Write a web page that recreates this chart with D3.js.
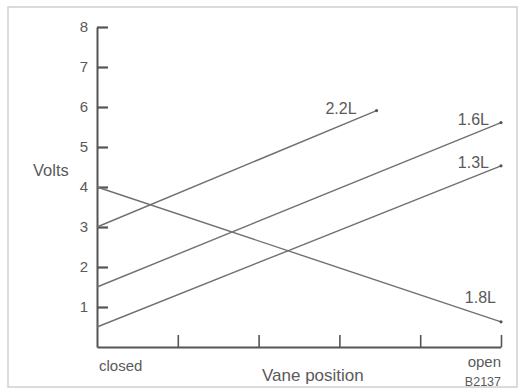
<!DOCTYPE html>
<html>
<head>
<meta charset="utf-8">
<script src="https://cdn.jsdelivr.net/npm/d3@7"></script>
<style>
  html, body { margin: 0; padding: 0; background: #fff; }
  svg { display: block; }
  text { font-family: "Liberation Sans", Arial, Helvetica, sans-serif; fill: #5a5a5a; }
</style>
</head>
<body>
<svg id="chart" width="518" height="390"></svg>
<script>
// Vane position steps (0 = closed, 5 = open) and voltage ticks
const vaneTicks = [1, 2, 3, 4, 5];
const voltTicks = [1, 2, 3, 4, 5, 6, 7, 8];
const endLabels = ["closed", "open"];

// Engine variants: output voltage at the start and end of the vane travel
const engines = ["2.2L", "1.6L", "1.3L", "1.8L"];
const startPos = [0, 0, 0, 0];
const endPos = [3.46, 5, 5, 5];
const startVolts = [3.0, 1.5, 0.5, 4.0];
const endVolts = [5.91, 5.61, 4.53, 0.63];

const svg = d3.select("#chart");
const W = 518;

// light frame around the figure
svg.append("rect")
  .attr("x", 8).attr("y", 7).attr("width", W - 9).attr("height", 380)
  .attr("fill", "none").attr("stroke", "#cfcfcf").attr("stroke-width", 1.5);

const x = d3.scaleLinear().domain([0, 5]).range([97, 501]);
const y = d3.scaleLinear().domain([0, 8]).range([347, 27]);

const axisColor = "#555";

// Volts axis: ticks point into the plot, numbers sit to the left
const yAxis = svg.append("g")
  .attr("transform", `translate(${x(0)},0)`)
  .call(d3.axisLeft(y).tickValues(voltTicks).tickSizeInner(-11).tickSizeOuter(0).tickPadding(9));
yAxis.select(".domain").attr("stroke", axisColor).attr("stroke-width", 2);
yAxis.selectAll(".tick line").attr("stroke", axisColor).attr("stroke-width", 2.2);
yAxis.selectAll(".tick text")
  .style("font-size", "15px").attr("fill", "#5a5a5a")
  .style("font-family", "'Liberation Sans', Arial, sans-serif");

// Vane position axis: ticks point upward, no numbers
const xAxis = svg.append("g")
  .attr("transform", `translate(0,${y(0)})`)
  .call(d3.axisBottom(x).tickValues(vaneTicks).tickSizeInner(-12).tickSizeOuter(0).tickFormat(""));
xAxis.select(".domain").attr("stroke", axisColor).attr("stroke-width", 2);
xAxis.selectAll(".tick line").attr("stroke", axisColor).attr("stroke-width", 1.6);

// Characteristic lines
const lineColor = "#707070";
const rows = engines.map((name, i) => ({
  name, x0: startPos[i], x1: endPos[i], v0: startVolts[i], v1: endVolts[i]
}));

svg.append("g").selectAll("line")
  .data(rows).join("line")
  .attr("x1", d => x(d.x0)).attr("y1", d => y(d.v0))
  .attr("x2", d => x(d.x1)).attr("y2", d => y(d.v1))
  .attr("stroke", lineColor).attr("stroke-width", 1.4);

svg.append("g").selectAll("circle")
  .data(rows).join("circle")
  .attr("cx", d => x(d.x1)).attr("cy", d => y(d.v1))
  .attr("r", 1.6).attr("fill", "#555");

// label offsets from each line's end point
const labelOffset = { "2.2L": [-20, 3], "1.6L": [-12, 2], "1.3L": [-12, 2], "1.8L": [-5, -19] };
svg.append("g").selectAll("text")
  .data(rows).join("text")
  .attr("x", d => x(d.x1) + labelOffset[d.name][0])
  .attr("y", d => y(d.v1) + labelOffset[d.name][1])
  .attr("text-anchor", "end")
  .style("font-size", "16px")
  .text(d => d.name);

// Axis titles and end labels
svg.append("text").attr("x", 33).attr("y", 176).style("font-size", "16.5px").text("Volts");
svg.append("text").attr("x", x(0) + 2).attr("y", 371).style("font-size", "15px").text(endLabels[0]);
svg.append("text").attr("x", x(5)).attr("y", 367).attr("text-anchor", "end").style("font-size", "15px").text(endLabels[1]);
svg.append("text").attr("x", 262).attr("y", 381).style("font-size", "17px").text("Vane position");
svg.append("text").attr("x", 501).attr("y", 386).attr("text-anchor", "end").style("font-size", "12.5px").text("B2137");
</script>
</body>
</html>
